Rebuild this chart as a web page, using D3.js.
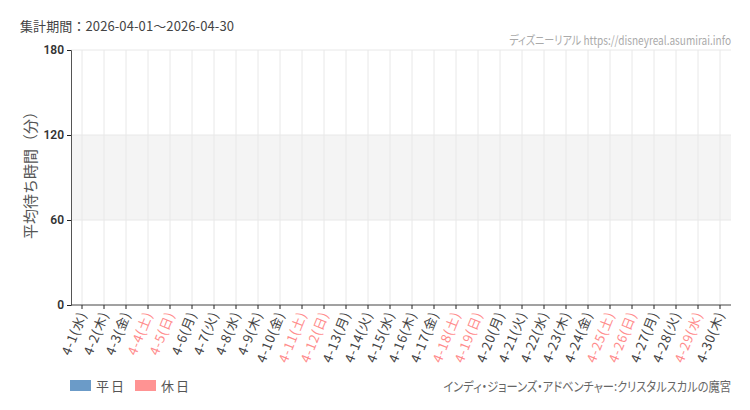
<!DOCTYPE html>
<html>
<head>
<meta charset="utf-8">
<script src="https://cdn.jsdelivr.net/npm/d3@7"></script>
<style>
  body { margin: 0; background: #fff; }
  text { font-family: "Noto Sans CJK JP", "Noto Sans", sans-serif; }
  .palt { font-feature-settings: "palt"; }
</style>
</head>
<body>
<div id="chart"></div>
<script>
// data
const days = d3.range(1, 31).map(d => "4-" + d);
const weekdays = ["水","木","金","土","日","月","火","水","木","金","土","日","月","火","水","木","金","土","日","月","火","水","木","金","土","日","月","火","水","木"];
const holidays = [4, 5, 11, 12, 18, 19, 25, 26, 29];
const waitTimes = days.map(() => null); // no data in this period
const yTicks = [0, 60, 120, 180];

const width = 750, height = 410;
const margin = {top: 50, right: 19, bottom: 105, left: 71};

let svg = d3.select("#chart")
    .append("svg")
    .attr("width", width)
    .attr("height", height);

let x = d3.scaleBand()
    .domain(days)
    .range([margin.left, width - margin.right]);

let y = d3.scaleLinear()
    .domain([0, 180])
    .range([height - margin.bottom, margin.top]);

// shaded band 60-120
svg.append("rect")
    .attr("x", margin.left)
    .attr("y", y(120))
    .attr("width", width - margin.left - margin.right)
    .attr("height", y(60) - y(120))
    .attr("fill", "#f4f4f4");

// grid
svg.append("g").selectAll("line").data(days).enter()
    .append("line")
    .attr("x1", d => x(d) + x.bandwidth() / 2)
    .attr("x2", d => x(d) + x.bandwidth() / 2)
    .attr("y1", y(180))
    .attr("y2", y(0))
    .attr("stroke", "#e8e8e8");

svg.append("g").selectAll("line").data(yTicks.slice(1)).enter()
    .append("line")
    .attr("x1", margin.left)
    .attr("x2", width - margin.right)
    .attr("y1", d => y(d))
    .attr("y2", d => y(d))
    .attr("stroke", "#e8e8e8");

// bars (empty)
svg.append("g").selectAll("rect").data(days.filter((d, i) => waitTimes[i] != null)).enter()
    .append("rect")
    .attr("x", d => x(d) + 3)
    .attr("width", x.bandwidth() - 6)
    .attr("y", d => y(waitTimes[days.indexOf(d)]))
    .attr("height", d => y(0) - y(waitTimes[days.indexOf(d)]))
    .attr("fill", d => holidays.includes(+d.split("-")[1]) ? "#ff9393" : "#6b9bc8");

// y axis
let yAxis = svg.append("g")
    .attr("transform", `translate(${margin.left},0)`)
    .call(d3.axisLeft(y).tickValues(yTicks).tickSize(4).tickPadding(3));
yAxis.select(".domain").attr("stroke", "#555");
yAxis.selectAll(".tick line").attr("stroke", "#222");
yAxis.selectAll("text")
    .attr("fill", "#333")
    .style("font-size", "12px")
    .style("font-weight", "600")
    .style("font-family", "Roboto, sans-serif");

// x axis
let xAxis = svg.append("g")
    .attr("transform", `translate(0,${y(0)})`)
    .call(d3.axisBottom(x).tickSize(4).tickFormat(""));
xAxis.select(".domain").attr("stroke", "#444").attr("d", `M${margin.left},0H${width - margin.right}`);
xAxis.selectAll(".tick line").attr("stroke", "#222");

svg.append("g").selectAll("text").data(days).enter()
    .append("text")
    .attr("transform", d => `translate(${x(d) + x.bandwidth() / 2 + 5},${y(0) + 9}) rotate(-68)`)
    .style("text-anchor", "end")
    .style("font-size", "13px")
    .style("letter-spacing", "0.8px")
    .attr("fill", (d, i) => holidays.includes(i + 1) ? "#ff8c8c" : "#444")
    .text((d, i) => d + "(" + weekdays[i] + ")");

// y label
svg.append("text")
    .attr("transform", `translate(36, 239) rotate(-90)`)
    .style("text-anchor", "start")
    .style("font-size", "15px")
    .attr("fill", "#555")
    .text("平均待ち時間（分）");

// title
svg.append("text")
    .attr("x", 20)
    .attr("y", 31)
    .style("font-size", "13px")
    .style("letter-spacing", "0.1px")
    .attr("fill", "#444")
    .text("集計期間：2026-04-01～2026-04-30");

// squeeze a right-aligned text horizontally to a given width
function fitRight(sel, right, baseline, w) {
    let len = sel.node().getComputedTextLength();
    let k = Math.min(1, w / len);
    sel.attr("transform", `translate(${right},${baseline}) scale(${k},1)`);
}

let credit = svg.append("text")
    .attr("class", "palt")
    .style("text-anchor", "end")
    .style("font-size", "12px")
    .attr("fill", "#aaa")
    .text("ディズニーリアル https://disneyreal.asumirai.info");
fitRight(credit, width - margin.right, 45, 222);

// legend
const legendItems = [{label: "平日", color: "#6b9bc8", x: 70}, {label: "休日", color: "#ff9393", x: 135}];
let legend = svg.append("g").selectAll("g").data(legendItems).enter().append("g");
legend.append("rect")
    .attr("x", d => d.x)
    .attr("y", 380)
    .attr("width", 21)
    .attr("height", 11)
    .attr("fill", d => d.color);
legend.append("text")
    .attr("x", d => d.x + 26)
    .attr("y", 391)
    .style("font-size", "13px")
    .style("letter-spacing", "2px")
    .attr("fill", "#555")
    .text(d => d.label);

let attraction = svg.append("text")
    .attr("class", "palt")
    .style("text-anchor", "end")
    .style("font-size", "13px")
    .attr("fill", "#666")
    .text("インディ・ジョーンズ・アドベンチャー:クリスタルスカルの魔宮");
fitRight(attraction, width - margin.right, 391, 288);
</script>
</body>
</html>
